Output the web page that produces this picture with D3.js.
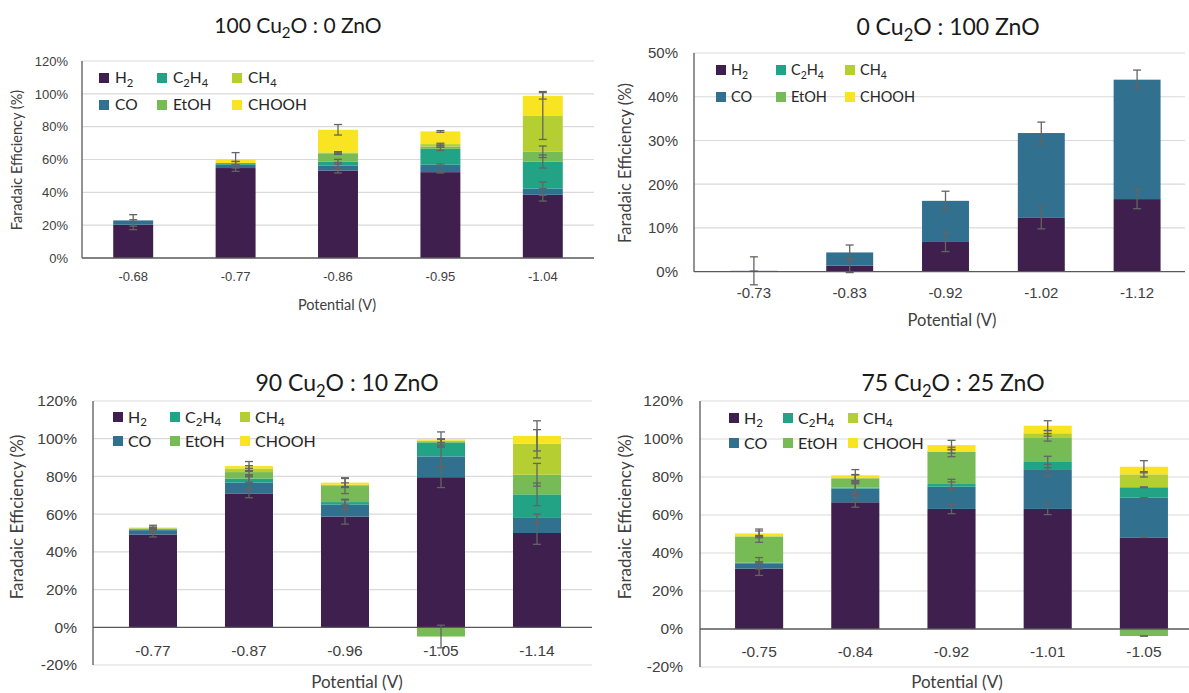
<!DOCTYPE html>
<html>
<head>
<meta charset="utf-8">
<script src="https://cdn.jsdelivr.net/npm/d3@7"></script>
<style>
  body { margin: 0; background: #fff; }
  svg { display: block; font-family: Lato, "Open Sans", sans-serif; }
</style>
</head>
<body>
<svg id="chart" width="1189" height="693"></svg>
<script>
// faradaic efficiency, four catalyst ratios
// series are in stacking order, bottom -> top (same as the excel sheet)
const products = ["H₂", "CO", "C₂H₄", "EtOH", "CH₄", "CHOOH"]
const colors = ["#3e1f4e", "#31708e", "#22a386", "#77bb56", "#b5cf33", "#f8e421"]
// legend goes row by row
const legendRows = [["H₂", "C₂H₄", "CH₄"], ["CO", "EtOH", "CHOOH"]]

// 100 Cu2O : 0 ZnO
const titleA = "100 Cu₂O : 0 ZnO"
const potA = ["-0.68", "-0.77", "-0.86", "-0.95", "-1.04"]
const ticksA = [0, 20, 40, 60, 80, 100, 120]
const feA = [ // rows follow products
  [20.3, 54.8, 53.3, 52.3, 38.5],
  [2.6, 2.0, 2.9, 4.5, 3.7],
  [0, 1.0, 2.4, 9.7, 16.6],
  [0, 0, 5.2, 1.4, 5.9],
  [0, 0, 0.5, 1.5, 22.1],
  [0, 2.4, 13.8, 7.7, 12.0]
]
const errA = [
  [3.0, 2.0, 1.5, 0.5, 3.8],
  [3.5, 2.0, 2.0, 0.5, 4.0],
  [0, 1.0, 1.5, 1.0, 4.0],
  [0, 0, 0.7, 0.5, 3.5],
  [0, 0, 0.5, 0.5, 14.6],
  [0, 4.0, 3.2, 0.5, 2.0]
]

// 0 Cu2O : 100 ZnO
const titleB = "0 Cu₂O : 100 ZnO"
const potB = ["-0.73", "-0.83", "-0.92", "-1.02", "-1.12"]
const ticksB = [0, 10, 20, 30, 40, 50]
const feB = [
  [0.1, 1.4, 6.8, 12.3, 16.6],
  [0.1, 3.0, 9.4, 19.4, 27.3],
  [0, 0, 0, 0, 0],
  [0, 0, 0, 0, 0],
  [0, 0, 0, 0, 0],
  [0, 0, 0, 0, 0]
]
const errB = [
  [0, 1.6, 2.2, 2.5, 2.2],
  [3.2, 1.7, 2.2, 2.5, 2.2],
  [0, 0, 0, 0, 0],
  [0, 0, 0, 0, 0],
  [0, 0, 0, 0, 0],
  [0, 0, 0, 0, 0]
]

// 90 Cu2O : 10 ZnO
const titleC = "90 Cu₂O : 10 ZnO"
const potC = ["-0.77", "-0.87", "-0.96", "-1.05", "-1.14"]
const ticksC = [-20, 0, 20, 40, 60, 80, 100, 120]
const feC = [
  [49.2, 71.0, 58.7, 79.6, 50.0],
  [2.3, 5.8, 6.3, 11.0, 8.0],
  [0.5, 2.1, 1.4, 7.5, 12.5],
  [0.3, 3.4, 8.5, -4.9, 10.4],
  [0.3, 1.9, 0.7, 0.9, 16.4],
  [0.3, 1.3, 1.1, 0.6, 4.2]
]
const errC = [
  [1.3, 2.3, 4.0, 5.5, 6.0],
  [1.5, 3.0, 2.5, 5.0, 2.0],
  [0.5, 2.0, 1.5, 1.5, 6.0],
  [0.5, 2.0, 4.0, 6.0, 6.0],
  [0.5, 1.5, 1.0, 1.0, 7.5],
  [1.2, 2.4, 2.6, 4.0, 8.0]
]

// 75 Cu2O : 25 ZnO
const titleD = "75 Cu₂O : 25 ZnO"
const potD = ["-0.75", "-0.84", "-0.92", "-1.01", "-1.05"]
const ticksD = [-20, 0, 20, 40, 60, 80, 100, 120]
const feD = [
  [31.8, 66.7, 63.2, 63.2, 48.2],
  [2.8, 7.2, 11.7, 20.5, 20.9],
  [0.3, 0.5, 1.4, 4.2, 5.5],
  [13.7, 4.9, 16.9, 13.0, -3.7],
  [0.3, 0.3, 0.3, 2.1, 6.8],
  [1.4, 1.3, 3.3, 4.0, 4.0]
]
const errD = [
  [3.6, 2.6, 2.5, 3.0, 0],
  [3.0, 3.0, 2.5, 3.0, 0],
  [0.3, 2.0, 2.5, 3.0, 0.2],
  [3.0, 2.0, 2.5, 2.0, 0],
  [0.3, 1.5, 1.0, 1.5, 1.4],
  [2.3, 3.0, 2.5, 2.6, 3.2]
]

const svg = d3.select("#chart")

// text with subscript digits (₂ ₄) as lowered tspans
function richText(sel, str, size) {
  const subs = { "₂": "2", "₄": "4" }
  const runs = []
  for (const ch of str) {
    const sub = ch in subs
    const c = sub ? subs[ch] : ch
    if (runs.length && runs[runs.length - 1].sub === sub) runs[runs.length - 1].t += c
    else runs.push({ t: c, sub: sub })
  }
  let prevSub = false
  runs.forEach(r => {
    const ts = sel.append("tspan").text(r.t)
    if (r.sub) ts.attr("font-size", size * 0.72).attr("dy", size * 0.24)
    else if (prevSub) ts.attr("dy", -size * 0.24)
    prevSub = r.sub
  })
}

function drawPanel(p) {
  const g = svg.append("g")
  const y = d3.scaleLinear().domain(d3.extent(p.ticks)).range([p.yBottom, p.yTop])
  const x = d3.scaleBand().domain(p.cats).range(p.xRange).paddingInner(p.pad).paddingOuter(p.pad / 2)

  // gridlines
  g.append("g").selectAll("line")
    .data(p.ticks.filter(t => t !== 0))
    .join("line")
    .attr("x1", p.axisX).attr("x2", p.gridRight)
    .attr("y1", d => y(d)).attr("y2", d => y(d))
    .attr("stroke", "#d9d9d9").attr("stroke-width", 1.2)

  // stacked bars (negatives go below zero)
  const rows = p.cats.map((c, j) => {
    const o = { cat: c }
    products.forEach((k, i) => { o[k] = p.fe[i][j] })
    return o
  })
  const stacked = d3.stack().keys(products).offset(d3.stackOffsetDiverging)(rows)
  g.append("g").selectAll("g")
    .data(stacked)
    .join("g")
    .attr("fill", (d, i) => colors[i])
    .selectAll("rect")
    .data(d => d)
    .join("rect")
    .attr("x", d => x(d.data.cat))
    .attr("width", x.bandwidth())
    .attr("y", d => y(d[1]))
    .attr("height", d => Math.max(0, y(d[0]) - y(d[1])))

  // error bars sit on the end of each segment
  const errs = []
  stacked.forEach((s, i) => {
    s.forEach((d, j) => {
      const v = p.fe[i][j]
      if (v === 0) return
      const end = v > 0 ? d[1] : d[0]
      errs.push({ cx: x(d.data.cat) + x.bandwidth() / 2, lo: end - p.err[i][j], hi: end + p.err[i][j] })
    })
  })
  const eg = g.append("g").attr("stroke", "#646464").attr("stroke-width", 1.3)
  errs.forEach(e => {
    eg.append("line").attr("x1", e.cx).attr("x2", e.cx).attr("y1", y(e.lo)).attr("y2", y(e.hi))
    ;[e.lo, e.hi].forEach(v => {
      eg.append("line").attr("x1", e.cx - 4).attr("x2", e.cx + 4).attr("y1", y(v)).attr("y2", y(v))
    })
  })

  // y axis
  const ya = g.append("g")
    .attr("transform", `translate(${p.axisX},0)`)
    .call(d3.axisLeft(y).tickValues(p.ticks).tickSize(0).tickPadding(p.axisX - p.tickRight).tickFormat(d => d + "%"))
  ya.select(".domain").remove()
  ya.selectAll("text").attr("font-size", p.tickFont).attr("fill", "#404040").attr("font-family", null)
  g.append("line")
    .attr("x1", p.axisX).attr("x2", p.axisX)
    .attr("y1", p.yTop).attr("y2", p.yBottom)
    .attr("stroke", "#595959").attr("stroke-width", 1.3)

  // x axis on zero
  const xa = g.append("g")
    .attr("transform", `translate(0,${y(0)})`)
    .call(d3.axisBottom(x).tickSize(0).tickPadding(p.labelPad))
  xa.select(".domain").remove()
  xa.selectAll("text").attr("font-size", p.tickFont).attr("fill", "#404040").attr("font-family", null)
  g.append("line")
    .attr("x1", p.axisX).attr("x2", p.gridRight)
    .attr("y1", y(0)).attr("y2", y(0))
    .attr("stroke", "#595959").attr("stroke-width", 1.3)

  // titles
  const t = g.append("text")
    .attr("x", p.titleX).attr("y", p.titleY)
    .attr("text-anchor", "middle").attr("font-size", p.titleFont).attr("fill", "#1a1a1a")
  richText(t, p.title, p.titleFont)

  g.append("text")
    .attr("transform", `translate(${p.yTitleX},${p.yTitleY}) rotate(-90)`)
    .attr("text-anchor", "middle").attr("dy", "0.35em")
    .attr("font-size", p.axisFont).attr("fill", "#404040")
    .text("Faradaic Efficiency (%)")
  g.append("text")
    .attr("x", p.xTitleX).attr("y", p.xTitleY)
    .attr("text-anchor", "middle").attr("dy", "0.35em")
    .attr("font-size", p.axisFont).attr("fill", "#404040")
    .text("Potential (V)")

  // legend
  legendRows.forEach((row, r) => {
    row.forEach((name, c) => {
      const ly = p.legRows[r], lx = p.legCols[c]
      g.append("rect")
        .attr("x", lx).attr("y", ly - 5).attr("width", 10).attr("height", 10)
        .attr("fill", colors[products.indexOf(name)])
      const lt = g.append("text")
        .attr("x", lx + p.legGap).attr("y", ly).attr("dy", "0.35em")
        .attr("font-size", p.legFont).attr("fill", "#262626")
      richText(lt, name, p.legFont)
    })
  })
}

drawPanel({
  title: titleA, cats: potA, ticks: ticksA, fe: feA, err: errA,
  yTop: 61, yBottom: 258, xRange: [82, 594], pad: 0.61, axisX: 82, gridRight: 594,
  tickRight: 68, tickFont: 13, labelPad: 14, titleX: 298, titleY: 33, titleFont: 21,
  axisFont: 14.5, yTitleX: 17, yTitleY: 160, xTitleX: 337, xTitleY: 305,
  legRows: [78, 105], legCols: [99, 157, 232], legGap: 16, legFont: 15.5
})
drawPanel({
  title: titleB, cats: potB, ticks: ticksB, fe: feB, err: errB,
  yTop: 53, yBottom: 271.7, xRange: [706, 1185], pad: 0.51, axisX: 694, gridRight: 1185,
  tickRight: 678, tickFont: 15, labelPad: 16, titleX: 948, titleY: 35, titleFont: 23,
  axisFont: 16.5, yTitleX: 625, yTitleY: 163, xTitleX: 952, xTitleY: 320,
  legRows: [70, 97], legCols: [716, 776, 845], legGap: 15, legFont: 14.5
})
drawPanel({
  title: titleC, cats: potC, ticks: ticksC, fe: feC, err: errC,
  yTop: 401, yBottom: 665, xRange: [105, 585], pad: 0.5, axisX: 93, gridRight: 592,
  tickRight: 77, tickFont: 15.5, labelPad: 18, titleX: 347, titleY: 391, titleFont: 23,
  axisFont: 17, yTitleX: 17, yTitleY: 517, xTitleX: 357, xTitleY: 682,
  legRows: [417, 441], legCols: [113, 170, 240], legGap: 15, legFont: 16
})
drawPanel({
  title: titleD, cats: potD, ticks: ticksD, fe: feD, err: errD,
  yTop: 401, yBottom: 667, xRange: [711, 1192], pad: 0.5, axisX: 700, gridRight: 1189,
  tickRight: 683, tickFont: 15.5, labelPad: 17, titleX: 953, titleY: 391, titleFont: 23,
  axisFont: 17, yTitleX: 625, yTitleY: 517, xTitleX: 957, xTitleY: 682,
  legRows: [418, 443], legCols: [729, 783, 848], legGap: 15, legFont: 16
})
</script>
</body>
</html>
